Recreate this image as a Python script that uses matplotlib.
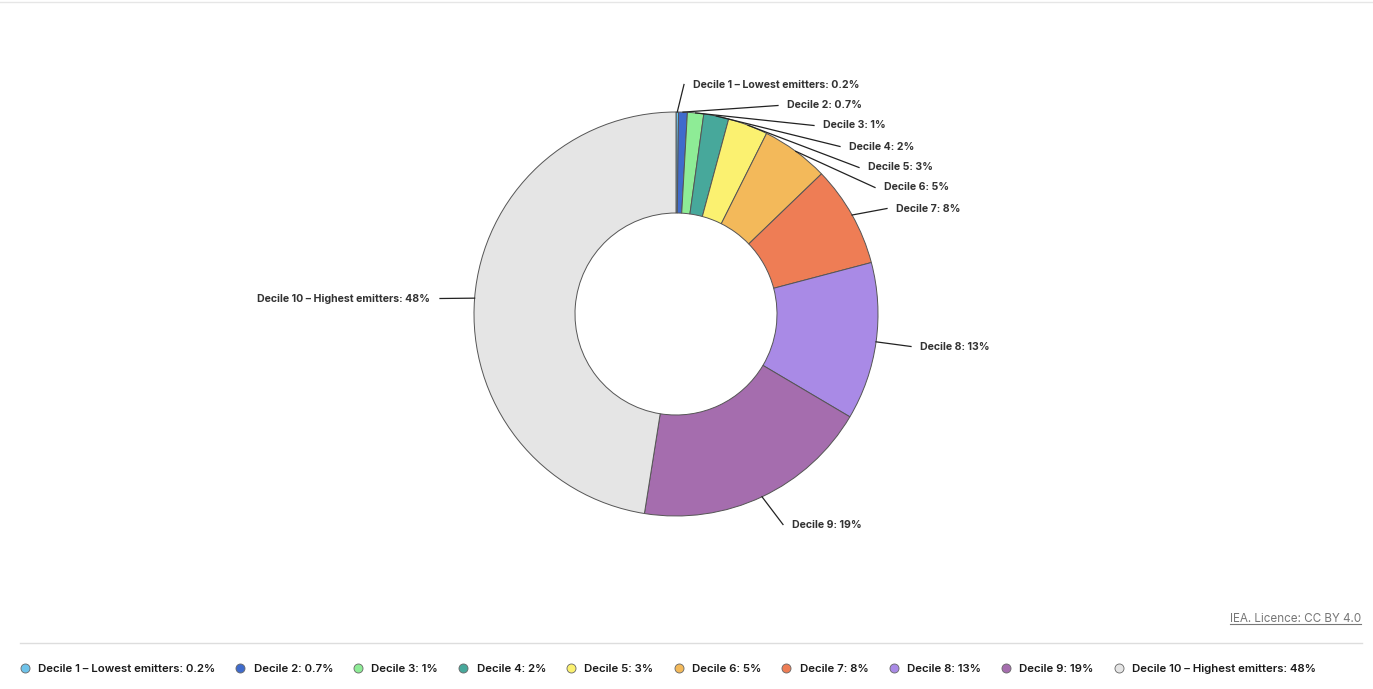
import numpy as np
import matplotlib
matplotlib.use('Agg')
import matplotlib.pyplot as plt
from matplotlib.lines import Line2D

plt.rcParams['font.family'] = ['Inter', 'DejaVu Sans']

# data (wedge sizes, labels as printed)
labels = ['Decile 1 \u2013 Lowest emitters', 'Decile 2', 'Decile 3', 'Decile 4', 'Decile 5',
          'Decile 6', 'Decile 7', 'Decile 8', 'Decile 9', 'Decile 10 \u2013 Highest emitters']
values = [0.2, 0.7, 1.3, 2.0, 3.2, 5.4, 8.1, 12.6, 19.0, 47.5]
value_text = ['0.2%', '0.7%', '1%', '2%', '3%', '5%', '8%', '13%', '19%', '48%']
colors = ['#6ec3ea', '#3f6bcc', '#8eec96', '#47a89b', '#fbf170', '#f3b95a',
          '#ee7d55', '#a98ae6', '#a56dae', '#e5e5e5']

W, H = 1373, 689
fig = plt.figure(figsize=(W / 100, H / 100), dpi=100)
ax = fig.add_axes([0, 0, 1, 1])

cx, cy = 676, H - 314
R, ring = 202, 101
wedges, _ = ax.pie(values, colors=colors, center=(cx, cy), radius=R, startangle=90,
                   counterclock=False,
                   wedgeprops=dict(width=ring, edgecolor='#555555', linewidth=0.7))
ax.set_xlim(0, W)
ax.set_ylim(0, H)
ax.axis('off')

# label text anchors (pixels, y from top)
lab_pos = [(693, 84), (787, 105), (823, 125), (849, 146), (868, 167), (884, 187),
           (896, 208), (920, 346), (792, 524), (430, 298)]
for i, w in enumerate(wedges):
    ang = np.deg2rad((w.theta1 + w.theta2) / 2)
    sx, sy = cx + R * np.cos(ang), cy + R * np.sin(ang)
    tx, ty = lab_pos[i]
    ty = H - ty - 0.5
    if i == 9:
        ex = tx + 10
        ha = 'right'
    else:
        ex = tx - 9
        ha = 'left'
    ax.plot([sx, ex], [sy, ty], color='#222222', lw=0.9)
    ax.text(tx, ty, f'{labels[i]}: {value_text[i]}', ha=ha, va='center',
            fontsize=7.6, fontweight='bold', color='#333333')

# top border and separator
ax.plot([0, W], [H - 2, H - 2], color='#e6e6e6', lw=1)
ax.plot([20, 1362], [H - 643, H - 643], color='#dddddd', lw=1)

# licence
lic = ax.text(1361, H - 619, 'IEA. Licence: CC BY 4.0', ha='right', va='center',
              fontsize=8.4, color='#777777')
fig.canvas.draw()
bb = lic.get_window_extent()
ax.plot([bb.x0, bb.x1], [bb.y0 + 1, bb.y0 + 1], color='#777777', lw=0.8)

# legend
handles = [Line2D([], [], marker='o', ls='none', markersize=6.5, markerfacecolor=c,
                  markeredgecolor='#666666', markeredgewidth=0.6) for c in colors]
leg_labels = [f'{l}: {v}' for l, v in zip(labels, value_text)]
fig.legend(handles, leg_labels, loc='center left', bbox_to_anchor=(10 / W, 1 - 669 / H),
           ncol=10, frameon=False, handlelength=0.8, handletextpad=0.75,
           columnspacing=1.82, prop=dict(size=8.2, weight='semibold'), labelcolor='#1a1a1a')

fig.savefig('out.png', dpi=100)
